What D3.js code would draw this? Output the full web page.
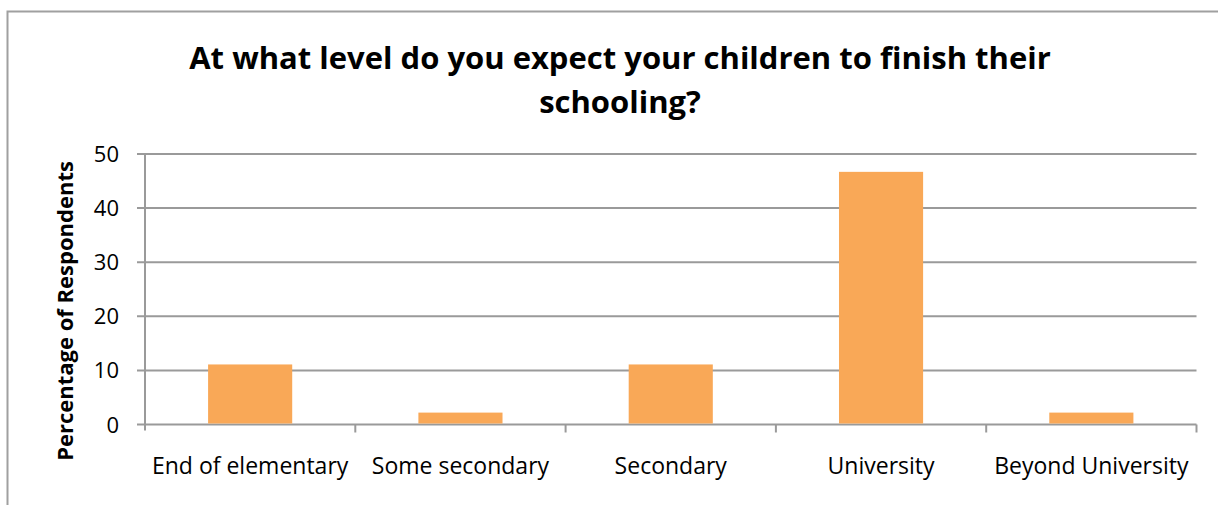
<!DOCTYPE html>
<html><head><meta charset="utf-8">
<script src="https://cdn.jsdelivr.net/npm/d3@7"></script>
<style>body{margin:0;background:#fff}svg{display:block}text{font-family:"Open Sans",sans-serif}</style>
</head><body><svg id="c" width="1218" height="505"></svg>
<script>
const categories = ["End of elementary","Some secondary","Secondary","University","Beyond University"];
const values = [11.1, 2.2, 11.1, 46.7, 2.2];
const yTicks = [0,10,20,30,40,50];
const titleLines = ["At what level do you expect your children to finish their","schooling?"];
const yTitle = "Percentage of Respondents";

const svg = d3.select("#c");
svg.append("rect").attr("x",7.5).attr("y",11.5).attr("width",1240).attr("height",520)
  .attr("fill","none").attr("stroke","#a0a0a0").attr("stroke-width",2);

const m = {l:145, r:1196.5, t:154, b:424.5};
const x = d3.scaleBand().domain(categories).range([m.l,m.r]).paddingInner(0.6).paddingOuter(0.3);
const xb = d3.scaleBand().domain(categories).range([m.l,m.r]);
const y = d3.scaleLinear().domain([0,50]).range([m.b,m.t]);

const g = svg.append("g");
g.selectAll("line.grid").data(yTicks).join("line")
  .attr("x1",m.l-8).attr("x2",m.r).attr("y1",d=>y(d)).attr("y2",d=>y(d))
  .attr("stroke","#9a9a9a").attr("stroke-width",2);
g.append("line").attr("x1",m.l).attr("x2",m.l).attr("y1",m.t).attr("y2",m.b+6).attr("stroke","#9a9a9a").attr("stroke-width",2);
const bounds = categories.map(c=>xb(c)+xb.bandwidth()).slice(0,-1).concat([m.r]);
g.selectAll("line.xt").data(bounds).join("line")
  .attr("x1",d=>d).attr("x2",d=>d).attr("y1",m.b).attr("y2",m.b+8)
  .attr("stroke","#9a9a9a").attr("stroke-width",2);

g.selectAll("rect.bar").data(values).join("rect")
  .attr("x",(d,i)=>x(categories[i])).attr("width",x.bandwidth())
  .attr("y",d=>y(d)).attr("height",d=>m.b-1-y(d))
  .attr("fill","#f9a857");

g.selectAll("text.yt").data(yTicks).join("text")
  .attr("x",119).attr("y",d=>y(d)+8).attr("text-anchor","end")
  .attr("font-size",22).attr("fill","#000").text(d=>d);

g.selectAll("text.xl").data(categories).join("text")
  .attr("x",d=>xb(d)+xb.bandwidth()/2).attr("y",474).attr("text-anchor","middle")
  .attr("font-size",23).attr("fill","#000").text(d=>d);

svg.append("text").attr("transform","translate(73,311) rotate(-90)")
  .attr("text-anchor","middle").attr("font-size",22).attr("font-weight","bold").text(yTitle);

svg.selectAll("text.title").data(titleLines).join("text")
  .attr("x",620).attr("y",(d,i)=>69+i*44).attr("text-anchor","middle")
  .attr("font-size",31).attr("font-weight","bold").text(d=>d);
</script></body></html>
